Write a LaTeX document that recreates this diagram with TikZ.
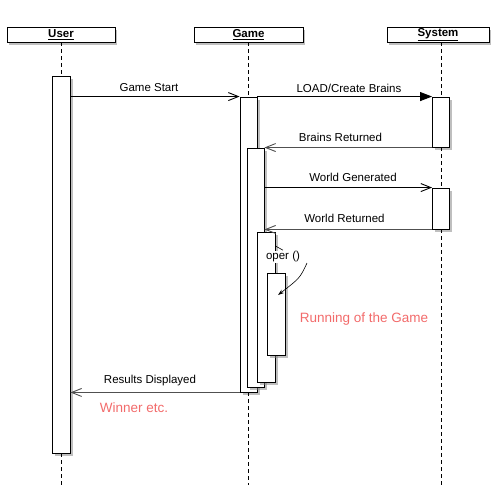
\documentclass[tikz,border=0pt]{standalone}
\usepackage{fontspec}
\setmainfont{Liberation Sans}
\usetikzlibrary{arrows.meta,shadows}
\definecolor{NoteRed}{HTML}{F26B6B}
\definecolor{ReplyGray}{HTML}{505050}

\begin{document}
\begin{tikzpicture}[x=1pt, y=-1pt, line width=0.9pt,
    head/.style={draw, fill=white, inner sep=0pt, minimum height=15pt, font=\bfseries\fontsize{11.5}{12}\selectfont, drop shadow={opacity=0.5, shadow xshift=1.5pt, shadow yshift=-2.5pt}},
    act/.style={draw, fill=white, inner sep=0pt, drop shadow={opacity=0.5, shadow xshift=2.5pt, shadow yshift=-3pt}},
    life/.style={dash pattern=on 4pt off 3pt},
    call/.style={-{Straight Barb[length=10pt,width=8pt]}},
    sync/.style={-{Triangle[length=12pt,width=9pt]}},
    reply/.style={ReplyGray, -{Straight Barb[length=10pt,width=8pt]}},
    msg/.style={font=\fontsize{11.5}{12}\selectfont, inner sep=1pt},
    note/.style={text=NoteRed, font=\fontsize{13.5}{14}\selectfont, inner sep=1pt}
  ]
    \useasboundingbox (0,0) rectangle (504,485);

    % lifeline heads
    \node[head, minimum width=108pt] (user) at (61,34.5) {\underline{User}};
    \node[head, minimum width=109pt] (game) at (248.5,34.5) {\underline{Game}};
    \node[head, minimum width=102pt] (system) at (438,34.5) {\underline{System}};

    % activations
    \node[act, minimum width=18pt, minimum height=377pt] (useract) at (61,264.5) {};
    \node[act, minimum width=17pt, minimum height=50pt] (sysact1) at (441,122) {};
    \node[act, minimum width=17pt, minimum height=41pt] (sysact2) at (441,208.5) {};
    \node[act, minimum width=17pt, minimum height=295pt] (gameact1) at (248.5,244.5) {};
    \node[act, minimum width=17pt, minimum height=239pt] (gameact2) at (255.5,267.5) {};
    \node[act, minimum width=18pt, minimum height=150pt] (gameact3) at (266,307) {};
    \node[act, minimum width=18pt, minimum height=82pt] (gameact4) at (276,314) {};

    % lifelines
    \coordinate (userend) at (61,485);
    \coordinate (gameend) at (248.5,485);
    \coordinate (sysend) at (441,485);
    \draw[life] (user.south -| useract) -- (useract.north);
    \draw[life] (useract.south) -- (userend);
    \draw[life] (game.south -| gameact1) -- (gameact1.north);
    \draw[life] (gameact1.south) -- (gameend);
    \draw[life] (system.south -| sysact1) -- (sysact1.north);
    \draw[life] (sysact1.south) -- (sysact2.north);
    \draw[life] (sysact2.south) -- (sysend);

    % messages
    \draw[call] (useract.east |- gameact1.north) -- (gameact1.north west);
    \node[msg] (startlbl) at (149,88) {Game Start};
    \draw[sync] (gameact1.north east) -- (sysact1.north west);
    \node[msg] (loadlbl) at (349,88) {LOAD/Create Brains};
    \draw[reply] (sysact1.south west) -- (gameact2.north east);
    \node[msg] (brainslbl) at (340.5,137) {Brains Returned};
    \draw[call] (gameact2.east |- sysact2.north) -- (sysact2.north west);
    \node[msg] (worldlbl) at (353,177) {World Generated};
    \draw[reply] (sysact2.south west) -- (gameact2.east |- sysact2.south);
    \node[msg] (worldretlbl) at (344.5,218) {World Returned};

    % self call
    \node[msg, fill=white] (oper) at (283,257) {oper ()};
    \coordinate (opertail) at (307,263);
    \coordinate (operhead) at (278,295);
    \draw[line width=0.6pt] (gameact3.east |- 0,246) -- (oper.north);
    \draw[line width=0.6pt, -{Stealth[length=6pt,width=4pt]}] (opertail) .. controls (300,278) .. (operhead);
    \node[note] (runlbl) at (364,319) {Running of the Game};

    \draw[reply] (gameact1.south west) -- (useract.east |- gameact1.south);
    \node[msg] (resultlbl) at (150,381) {Results Displayed};
    \node[note] (winnerlbl) at (134,408) {Winner etc.};
  \end{tikzpicture}
\end{document}
